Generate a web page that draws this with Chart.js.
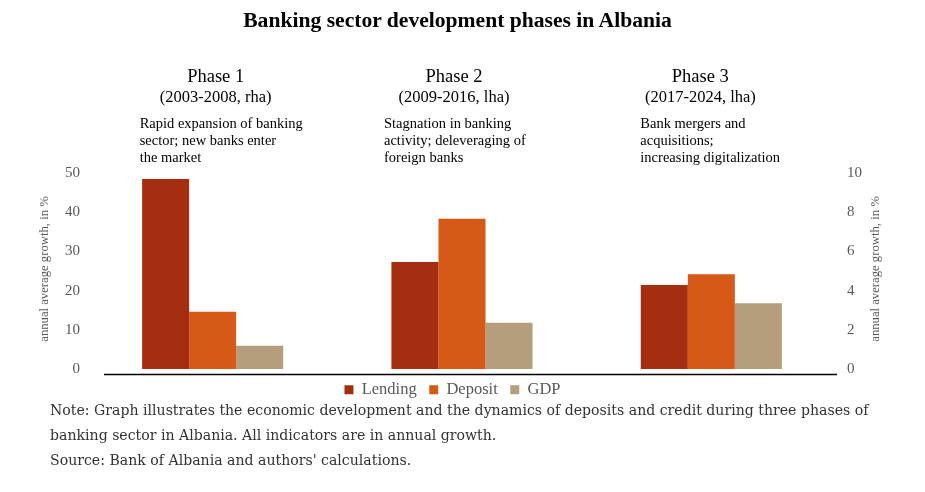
<!DOCTYPE html>
<html>
<head>
<meta charset="utf-8">
<script src="https://cdn.jsdelivr.net/npm/chart.js@4.4.1/dist/chart.umd.min.js"></script>
<style>
  body { margin: 0; background: #fff; }
  #page { position: relative; width: 925px; height: 492px; overflow: hidden; }
  #title {
    position: absolute; left: 0; top: 7px; width: 915px; text-align: center;
    font: bold 21.6px "Liberation Serif", serif; line-height: 26px; color: #000;
  }
  #chartBox { position: absolute; left: 0; top: 0; width: 925px; height: 408px; }
  #note {
    position: absolute; left: 50px; top: 398px; white-space: nowrap;
    font: 14.1px "DejaVu Serif", serif; line-height: 25px; color: #333;
  }
</style>
</head>
<body>
<div id="page">
  <div id="chartBox"><canvas id="phaseChart"></canvas></div>
  <div id="title">Banking sector development phases in Albania</div>
  <div id="note">
    Note: Graph illustrates the economic development and the dynamics of deposits and credit during three phases of<br>
    banking sector in Albania. All indicators are in annual growth.<br>
    Source: Bank of Albania and authors' calculations.
  </div>
</div>
<script>
// Chart data
const categories = ['Phase 1', 'Phase 2', 'Phase 3'];
const periods = ['(2003-2008, rha)', '(2009-2016, lha)', '(2017-2024, lha)'];
const descriptions = [
    ['Rapid expansion of banking', 'sector; new banks enter', 'the market'],
    ['Stagnation in banking', 'activity; deleveraging of', 'foreign banks'],
    ['Bank mergers and', 'acquisitions;', 'increasing digitalization']
];
const lending = [48.5, 27.3, 21.4];
const deposit = [14.6, 38.3, 24.2];
const gdp = [5.9, 11.8, 16.8];
const leftTicks = [0, 10, 20, 30, 40, 50];
const rightTicks = [0, 2, 4, 6, 8, 10];
const axisTitle = 'annual average growth, in %';

// Annotation placement relative to each category centre (px)
const headShift = [3, -8, -11];
const descShift = [-73, -78, -71];

const GRAY = '#595959';
const SERIF = '"Liberation Serif", "Times New Roman", serif';

// Phase headings and descriptions above the bars
const phaseNotes = {
    id: 'phaseNotes',
    afterDraw(chart) {
        const ctx = chart.ctx;
        const xs = chart.scales.x;
        ctx.save();
        ctx.fillStyle = '#000';
        ctx.textBaseline = 'middle';
        categories.forEach((cat, i) => {
            const cx = xs.getPixelForValue(i);
            ctx.textAlign = 'center';
            ctx.font = '18.5px ' + SERIF;
            ctx.fillText(cat, cx + headShift[i], 77);
            ctx.font = '16.5px ' + SERIF;
            ctx.fillText(periods[i], cx + headShift[i], 98);
            ctx.textAlign = 'left';
            ctx.font = '14.5px ' + SERIF;
            descriptions[i].forEach((line, j) => {
                ctx.fillText(line, cx + descShift[i], 124 + j * 17);
            });
        });
        ctx.restore();
    }
};

// Rotated axis titles and the baseline under the bars
const axisDecor = {
    id: 'axisDecor',
    afterDraw(chart) {
        const ctx = chart.ctx;
        const area = chart.chartArea;
        const midY = (area.top + area.bottom) / 2 - 2;
        ctx.save();
        ctx.fillStyle = GRAY;
        ctx.font = '12.7px ' + SERIF;
        ctx.textAlign = 'center';
        ctx.textBaseline = 'middle';
        [45, 876].forEach(x => {
            ctx.save();
            ctx.translate(x, midY);
            ctx.rotate(-Math.PI / 2);
            ctx.fillText(axisTitle, 0, 0);
            ctx.restore();
        });
        ctx.strokeStyle = '#000';
        ctx.lineWidth = 1.4;
        ctx.beginPath();
        ctx.moveTo(area.left + 16, area.bottom + 5.5);
        ctx.lineTo(area.right + 1, area.bottom + 5.5);
        ctx.stroke();
        ctx.restore();
    }
};

const barStyle = { categoryPercentage: 0.566, barPercentage: 1, borderWidth: 0 };

new Chart(document.getElementById('phaseChart'), {
    type: 'bar',
    data: {
        labels: categories,
        datasets: [
            { label: 'Lending', data: lending, backgroundColor: '#A52E10', ...barStyle },
            { label: 'Deposit', data: deposit, backgroundColor: '#D65918', ...barStyle },
            { label: 'GDP', data: gdp, backgroundColor: '#B49E7E', ...barStyle }
        ]
    },
    options: {
        responsive: true,
        maintainAspectRatio: false,
        animation: false,
        // right padding shifts the legend centre left; y1 width keeps the plot edge
        layout: { padding: { top: 173, left: 0, right: 20, bottom: 0 } },
        plugins: {
            title: { display: false },
            tooltip: { enabled: false },
            legend: {
                position: 'bottom',
                labels: {
                    boxWidth: 9,
                    boxHeight: 9,
                    padding: 12.5,
                    color: GRAY,
                    font: { family: SERIF, size: 16.5 }
                }
            }
        },
        scales: {
            x: { display: false },
            y: {
                position: 'left',
                min: leftTicks[0],
                max: leftTicks[leftTicks.length - 1],
                afterBuildTicks: s => { s.ticks = leftTicks.map(v => ({ value: v })); },
                afterFit: s => { s.width = 88; },
                grid: { display: false, drawTicks: false },
                border: { display: false },
                ticks: { padding: 8, color: GRAY, font: { family: SERIF, size: 15 } }
            },
            y1: {
                position: 'right',
                min: rightTicks[0],
                max: rightTicks[rightTicks.length - 1],
                afterBuildTicks: s => { s.ticks = rightTicks.map(v => ({ value: v })); },
                afterFit: s => { s.width = 69; },
                grid: { display: false, drawTicks: false },
                border: { display: false },
                ticks: { padding: 11, color: GRAY, font: { family: SERIF, size: 15 } }
            }
        }
    },
    plugins: [phaseNotes, axisDecor]
});
</script>
</body>
</html>
